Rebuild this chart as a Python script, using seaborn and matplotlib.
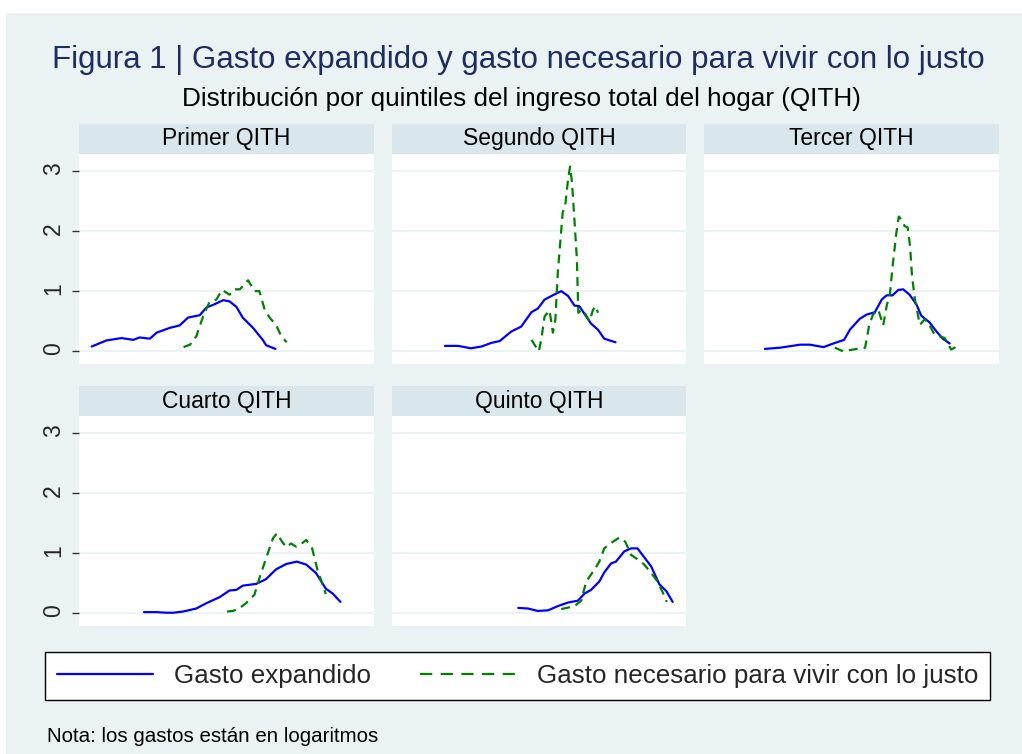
import matplotlib
matplotlib.use("Agg")
import matplotlib.pyplot as plt
import matplotlib.patches as mpatches
from matplotlib.lines import Line2D
import pandas as pd
import seaborn as sns

QUINTILES = ["Primer QITH", "Segundo QITH", "Tercer QITH", "Cuarto QITH", "Quinto QITH"]
SERIES = ["Gasto expandido", "Gasto necesario para vivir con lo justo"]
Y_TICKS = [0, 1, 2, 3]

# log del gasto (x) y densidad (y)
Q1_EXP_X = [8.76, 9.06, 9.37, 9.61, 9.74, 9.95, 10.09, 10.36, 10.56, 10.73, 10.97,
            11.11, 11.24, 11.45, 11.58, 11.72, 11.85, 12.06, 12.26, 12.33, 12.52]
Q1_EXP_Y = [0.08, 0.18, 0.22, 0.19, 0.23, 0.21, 0.31, 0.39, 0.43, 0.56, 0.60,
            0.73, 0.77, 0.85, 0.83, 0.74, 0.56, 0.39, 0.19, 0.10, 0.04]
Q1_NEC_X = [10.64, 10.77, 10.90, 11.04, 11.17, 11.31, 11.43, 11.58, 11.68, 11.79,
            11.96, 12.09, 12.19, 12.30, 12.40, 12.53, 12.64, 12.75]
Q1_NEC_Y = [0.07, 0.11, 0.25, 0.58, 0.82, 0.86, 1.02, 0.94, 1.03, 1.03,
            1.18, 1.00, 1.00, 0.69, 0.56, 0.44, 0.25, 0.15]

Q2_EXP_X = [9.59, 9.86, 10.12, 10.34, 10.54, 10.71, 10.95, 11.15, 11.36, 11.49,
            11.63, 11.77, 11.97, 12.11, 12.24, 12.34, 12.58, 12.72, 12.85, 13.08]
Q2_EXP_Y = [0.09, 0.09, 0.05, 0.08, 0.14, 0.17, 0.33, 0.41, 0.65, 0.71,
            0.86, 0.92, 1.00, 0.92, 0.76, 0.75, 0.46, 0.36, 0.21, 0.15]
Q2_NEC_X = [11.36, 11.51, 11.56, 11.63, 11.73, 11.80, 11.85, 11.90, 11.95, 12.00,
            12.05, 12.11, 12.15, 12.19, 12.24, 12.29, 12.32, 12.39, 12.45, 12.55,
            12.62, 12.68, 12.72]
Q2_NEC_Y = [0.19, 0.00, 0.19, 0.58, 0.68, 0.31, 0.53, 1.31, 1.81, 2.31,
            2.41, 2.86, 3.07, 2.81, 2.19, 1.53, 0.64, 0.69, 0.64, 0.50,
            0.69, 0.75, 0.64]

Q3_EXP_X = [9.74, 10.05, 10.46, 10.66, 10.94, 11.14, 11.36, 11.48, 11.68, 11.82,
            11.99, 12.13, 12.23, 12.35, 12.47, 12.57, 12.70, 12.84, 12.94, 13.11,
            13.25, 13.38, 13.52]
Q3_EXP_Y = [0.04, 0.06, 0.11, 0.11, 0.07, 0.13, 0.19, 0.36, 0.54, 0.61,
            0.65, 0.86, 0.93, 0.93, 1.02, 1.03, 0.94, 0.78, 0.59, 0.48,
            0.33, 0.21, 0.13]
Q3_NEC_X = [11.17, 11.34, 11.62, 11.79, 11.87, 11.95, 12.06, 12.16, 12.23, 12.30,
            12.36, 12.43, 12.48, 12.53, 12.60, 12.66, 12.71, 12.75, 12.81, 12.91,
            13.01, 13.11, 13.21, 13.42, 13.55, 13.71]
Q3_NEC_Y = [0.06, 0.00, 0.04, 0.06, 0.42, 0.61, 0.69, 0.43, 0.75, 0.97,
            1.47, 1.97, 2.24, 2.19, 2.08, 2.06, 1.75, 1.25, 0.86, 0.44,
            0.53, 0.43, 0.28, 0.22, 0.03, 0.10]

Q4_EXP_X = [9.83, 10.09, 10.29, 10.43, 10.63, 10.90, 11.11, 11.38, 11.58, 11.72,
            11.85, 12.13, 12.33, 12.53, 12.74, 12.96, 13.15, 13.35, 13.55, 13.69,
            13.85]
Q4_EXP_Y = [0.02, 0.02, 0.01, 0.01, 0.03, 0.08, 0.17, 0.27, 0.38, 0.39,
            0.46, 0.49, 0.57, 0.73, 0.82, 0.86, 0.81, 0.67, 0.41, 0.33,
            0.19]
Q4_NEC_X = [11.53, 11.65, 11.79, 11.92, 12.09, 12.19, 12.33, 12.47, 12.55, 12.64,
            12.74, 12.84, 12.94, 13.04, 13.15, 13.27, 13.38, 13.49, 13.55]
Q4_NEC_Y = [0.03, 0.04, 0.09, 0.17, 0.31, 0.58, 0.92, 1.25, 1.33, 1.21,
            1.10, 1.16, 1.11, 1.15, 1.22, 1.08, 0.72, 0.47, 0.32]

Q5_EXP_X = [11.09, 11.29, 11.49, 11.70, 11.90, 12.11, 12.31, 12.45, 12.58, 12.75,
            12.85, 12.99, 13.09, 13.26, 13.40, 13.53, 13.67, 13.81, 13.98, 14.12,
            14.25]
Q5_EXP_Y = [0.09, 0.08, 0.04, 0.05, 0.12, 0.18, 0.21, 0.33, 0.39, 0.53,
            0.68, 0.83, 0.86, 1.03, 1.08, 1.08, 0.93, 0.78, 0.48, 0.37,
            0.19]
Q5_NEC_X = [11.97, 12.24, 12.38, 12.48, 12.62, 12.75, 12.85, 12.99, 13.16, 13.28,
            13.40, 13.53, 13.67, 13.81, 13.94, 14.04, 14.13]
Q5_NEC_Y = [0.07, 0.12, 0.21, 0.53, 0.69, 0.86, 1.08, 1.17, 1.26, 1.19,
            0.97, 0.90, 0.81, 0.67, 0.53, 0.36, 0.19]

BG = "#EAF2F3"
STRIP = "#D9E6EB"
BLUE = "#0000FF"
GREEN = "#008000"
NAVY = "#1E2C5E"

panels = [
    (QUINTILES[0], Q1_EXP_X, Q1_EXP_Y, Q1_NEC_X, Q1_NEC_Y),
    (QUINTILES[1], Q2_EXP_X, Q2_EXP_Y, Q2_NEC_X, Q2_NEC_Y),
    (QUINTILES[2], Q3_EXP_X, Q3_EXP_Y, Q3_NEC_X, Q3_NEC_Y),
    (QUINTILES[3], Q4_EXP_X, Q4_EXP_Y, Q4_NEC_X, Q4_NEC_Y),
    (QUINTILES[4], Q5_EXP_X, Q5_EXP_Y, Q5_NEC_X, Q5_NEC_Y),
]
rows = []
for q, ex, ey, nx, ny in panels:
    rows += [(q, SERIES[0], a, b) for a, b in zip(ex, ey)]
    rows += [(q, SERIES[1], a, b) for a, b in zip(nx, ny)]
df = pd.DataFrame(rows, columns=["quintil", "serie", "log_gasto", "densidad"])

sns.set_theme(style="white")
plt.rcParams["font.family"] = ["Liberation Sans", "DejaVu Sans"]

fig, axes = plt.subplots(2, 3, figsize=(10.22, 7.54), dpi=100, sharex=True, sharey=True)
fig.patch.set_facecolor("white")
fig.subplots_adjust(left=0.0773, right=0.9775, top=0.7958, bottom=0.1698,
                    wspace=0.061, hspace=0.248)
fig.patches.append(mpatches.Rectangle((6 / 1022, 0), 1, 1 - 13 / 754,
                                      transform=fig.transFigure, facecolor=BG,
                                      edgecolor="none", zorder=-10))
axes[1, 2].remove()

strip_h = 30 / 210
for i, q in enumerate(QUINTILES):
    ax = axes.flat[i]
    sub = df[df["quintil"] == q]
    sns.lineplot(data=sub, x="log_gasto", y="densidad", hue="serie", style="serie",
                 palette={SERIES[0]: BLUE, SERIES[1]: GREEN},
                 dashes={SERIES[0]: "", SERIES[1]: (4, 2.7)},
                 estimator=None, sort=False, linewidth=1.6, legend=False, ax=ax)
    ax.set_facecolor("white")
    ax.set_xlim(8.5, 14.53)
    ax.set_ylim(-0.21, 3.28)
    ax.set_yticks(Y_TICKS)
    ax.set_xticks([])
    ax.set_xlabel("")
    ax.set_ylabel("")
    ax.yaxis.grid(True, color=BG, linewidth=1.3)
    ax.set_axisbelow(True)
    for s in ax.spines.values():
        s.set_visible(False)
    if i % 3 == 0:
        ax.tick_params(axis="y", left=True, labelleft=True, labelrotation=90,
                       length=5, width=1, color="#333333", labelsize=16.5, pad=5)
    else:
        ax.tick_params(axis="y", left=False, labelleft=False)
    ax.add_patch(mpatches.Rectangle((0, 1), 1, strip_h, transform=ax.transAxes,
                                    clip_on=False, facecolor=STRIP, edgecolor="none"))
    ax.text(0.5, 1 + strip_h / 2, q, transform=ax.transAxes, ha="center",
            va="center", fontsize=16.5, color="black")

fig.text(518 / 1022, 1 - 60 / 754, "Figura 1 | Gasto expandido y gasto necesario para vivir con lo justo",
         ha="center", va="center", fontsize=22.5, color=NAVY)
fig.text(521 / 1022, 1 - 99 / 754, "Distribución por quintiles del ingreso total del hogar (QITH)",
         ha="center", va="center", fontsize=18.8, color="black")

handles = [Line2D([], [], color=BLUE, linewidth=1.6),
           Line2D([], [], color=GREEN, linewidth=1.6, linestyle=(0, (5.5, 3.8)))]
leg = fig.legend(handles, SERIES, loc="center", ncol=2, mode="expand",
                 bbox_to_anchor=(45 / 1022, 1 - 700 / 754, 945 / 1022, 48 / 754),
                 frameon=True, fancybox=False, framealpha=1, edgecolor="black",
                 fontsize=18.7, handlelength=3.7, handletextpad=0.8,
                 borderpad=0.45, borderaxespad=0)
leg.get_frame().set_linewidth(1.0)

fig.text(47 / 1022, 1 - 737 / 754, "Nota: los gastos están en logaritmos",
         ha="left", va="center", fontsize=14.8, color="black")

fig.savefig("out.png", dpi=100)
